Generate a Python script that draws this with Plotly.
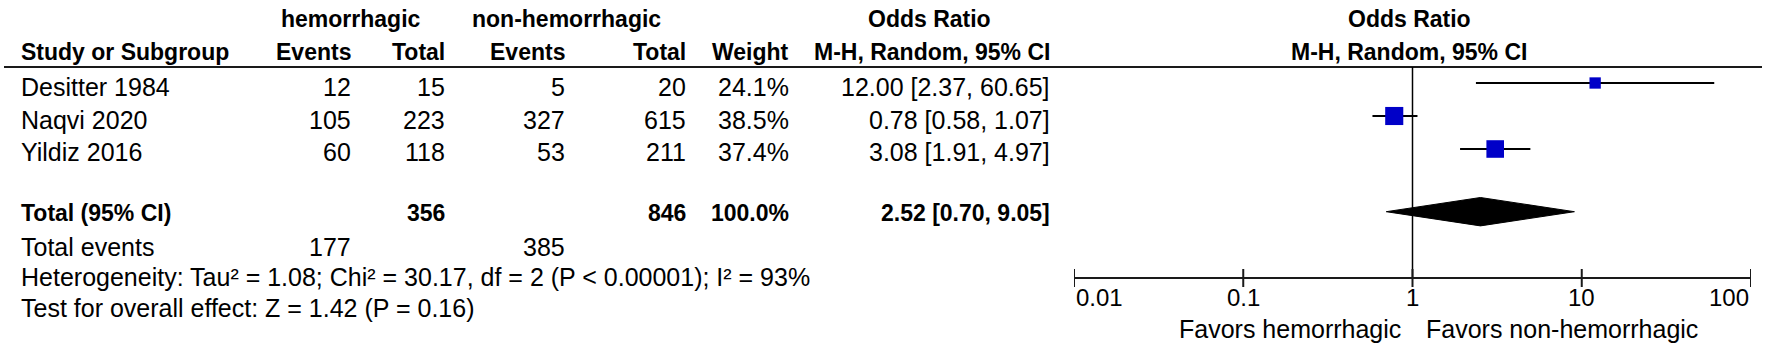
import math
import plotly.graph_objects as go

W, H = 1772, 360

# ---------------- data ----------------
studies = ["Desitter 1984", "Naqvi 2020", "Yildiz 2016"]
events_h = [12, 105, 60]
total_h = [15, 223, 118]
events_nh = [5, 327, 53]
total_nh = [20, 615, 211]
weights = [24.1, 38.5, 37.4]
or_est = [12.00, 0.78, 3.08]
or_lo = [2.37, 0.58, 1.91]
or_hi = [60.65, 1.07, 4.97]

total_label = "Total (95% CI)"
tot_h, tot_nh, tot_w = 356, 846, 100.0
tot_or, tot_lo, tot_hi = 2.52, 0.70, 9.05
tot_ev_h, tot_ev_nh = 177, 385
het_text = "Heterogeneity: Tau² = 1.08; Chi² = 30.17, df = 2 (P < 0.00001); I² = 93%"
test_text = "Test for overall effect: Z = 1.42 (P = 0.16)"

tick_vals = [0.01, 0.1, 1, 10, 100]
tick_text = ["0.01", "0.1", "1", "10", "100"]
favors_left = "Favors hemorrhagic"
favors_right = "Favors non-hemorrhagic"

# ---------------- layout helpers ----------------
FONT = "Liberation Sans, Arial, sans-serif"
FS = 25      # regular text
FSB = 23     # bold text
ROW0, ROWH = 50, 33          # pixel position of row 0 and row height
study_rows = [1, 2, 3]
total_row = 4.9


def px(x):
    return x / W


def py(y):
    return 1 - y / H


ann = []


def txt(s, x, y, anchor, bold=False, xref="paper", xshift=0, size=None):
    # annotations on a log axis take log10 positions
    xv = px(x) if xref == "paper" else math.log10(x)
    fs = size if size else (FSB if bold else FS)
    ann.append(dict(
        text=f"<b>{s}</b>" if bold else s,
        x=xv, y=py(y),
        xref=xref, yref="paper", xanchor=anchor, yanchor="middle",
        showarrow=False, xshift=xshift,
        font=dict(family=FONT, size=fs, color="black")))


# column right edges (pixels)
C_STUDY = 19
C_EV_H, C_TOT_H, C_EV_NH, C_TOT_NH, C_W, C_OR = 353, 447, 567, 688, 791, 1052

# headers
txt("hemorrhagic", 351, 19, "center", True)
txt("non-hemorrhagic", 566, 19, "center", True)
txt("Odds Ratio", 930, 19, "center", True)
txt("Study or Subgroup", C_STUDY, 52, "left", True)
txt("Events", C_EV_H, 52, "right", True)
txt("Total", C_TOT_H, 52, "right", True)
txt("Events", C_EV_NH, 52, "right", True)
txt("Total", C_TOT_NH, 52, "right", True)
txt("Weight", C_W, 52, "right", True)
txt("M-H, Random, 95% CI", C_OR, 52, "right", True)
txt("Odds Ratio", 1409, 19, "center", True)
txt("M-H, Random, 95% CI", 1409, 52, "center", True)

# study rows
text_rows_px = [87, 120, 152]
for i, s in enumerate(studies):
    yy = text_rows_px[i]
    txt(s, C_STUDY, yy, "left")
    txt(str(events_h[i]), C_EV_H, yy, "right")
    txt(str(total_h[i]), C_TOT_H, yy, "right")
    txt(str(events_nh[i]), C_EV_NH, yy, "right")
    txt(str(total_nh[i]), C_TOT_NH, yy, "right")
    txt(f"{weights[i]:.1f}%", C_W, yy, "right")
    txt(f"{or_est[i]:.2f} [{or_lo[i]:.2f}, {or_hi[i]:.2f}]", C_OR, yy, "right")

# total row
txt(total_label, C_STUDY, 213, "left", True)
txt(str(tot_h), C_TOT_H, 213, "right", True)
txt(str(tot_nh), C_TOT_NH, 213, "right", True)
txt(f"{tot_w:.1f}%", C_W, 213, "right", True)
txt(f"{tot_or:.2f} [{tot_lo:.2f}, {tot_hi:.2f}]", C_OR, 213, "right", True)

txt("Total events", C_STUDY, 247, "left")
txt(str(tot_ev_h), C_EV_H, 247, "right")
txt(str(tot_ev_nh), C_EV_NH, 247, "right")
txt(het_text, C_STUDY, 277, "left")
txt(test_text, C_STUDY, 308, "left")

# axis tick labels
for v, t in zip(tick_vals, tick_text):
    anchor = "left" if v == tick_vals[0] else ("right" if v == tick_vals[-1] else "center")
    txt(t, v, 297, anchor, xref="x", size=24)
txt(favors_left, 1, 329, "right", xref="x", xshift=-10)
txt(favors_right, 1, 329, "left", xref="x", xshift=11)

# ---------------- figure ----------------
fig = go.Figure()

for i in range(len(studies)):
    fig.add_trace(go.Scatter(
        x=[or_lo[i], or_hi[i]], y=[study_rows[i], study_rows[i]],
        mode="lines", line=dict(color="black", width=2),
        hoverinfo="skip", showlegend=False))

fig.add_trace(go.Scatter(
    x=or_est, y=study_rows, mode="markers",
    marker=dict(symbol="square", size=[w * 0.47 for w in weights],
                color="#0000C8", opacity=1, line=dict(width=0)),
    showlegend=False))

DH = 0.43  # diamond half height (rows)
fig.add_trace(go.Scatter(
    x=[tot_lo, tot_or, tot_hi, tot_or, tot_lo],
    y=[total_row, total_row - DH, total_row, total_row + DH, total_row],
    mode="lines", fill="toself", fillcolor="black",
    line=dict(color="black", width=1), showlegend=False))

shapes = []
LINE = "#1a1a1a"
# header rule
shapes.append(dict(type="line", xref="paper", yref="paper",
                   x0=px(4), x1=px(1762), y0=py(67), y1=py(67),
                   line=dict(color=LINE, width=2)))
# line of no effect
shapes.append(dict(type="line", xref="x", yref="paper",
                   x0=1, x1=1, y0=py(67), y1=py(278),
                   line=dict(color="black", width=1.5)))
# x axis
shapes.append(dict(type="line", xref="x", yref="paper",
                   x0=tick_vals[0], x1=tick_vals[-1], y0=py(278), y1=py(278),
                   line=dict(color=LINE, width=2)))
for v in tick_vals:
    shapes.append(dict(type="line", xref="x", yref="paper",
                       x0=v, x1=v, y0=py(269), y1=py(287),
                       line=dict(color=LINE, width=2)))

fig.update_layout(
    width=W, height=H,
    margin=dict(l=0, r=0, t=0, b=0),
    paper_bgcolor="white", plot_bgcolor="white",
    xaxis=dict(type="log", range=[-2, 2], domain=[px(1074), px(1751)],
               visible=False, fixedrange=True),
    yaxis=dict(range=[(H - ROW0) / ROWH, -ROW0 / ROWH], domain=[0, 1],
               visible=False, fixedrange=True),
    annotations=ann, shapes=shapes,
    showlegend=False,
)

fig.write_html(
    "out.html",
    config={"displayModeBar": False},
    post_script="document.body.style.margin='0';document.body.style.overflow='hidden';",
)
